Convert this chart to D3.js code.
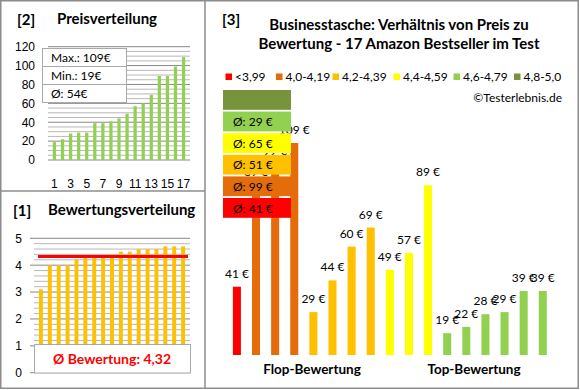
<!DOCTYPE html>
<html>
<head>
<meta charset="utf-8">
<script src="https://cdn.jsdelivr.net/npm/d3@7"></script>
<style>
	body { margin: 0; background: #fff; }
	svg { display: block; font-family: Lato, "Open Sans", sans-serif; }
</style>
</head>
<body>
<div id="chart"></div>
<script>
// data
const productNr = d3.range(1, 18);
const prices = [19, 22, 28, 29, 29, 39, 39, 41, 44, 49, 57, 60, 69, 89, 89, 99, 109];
const ratings = [3.1, 4.0, 4.0, 4.0, 4.2, 4.3, 4.3, 4.3, 4.4, 4.5, 4.5, 4.6, 4.6, 4.6, 4.7, 4.7, 4.7];

// panel 3: products sorted by rating group
const groupPrices = [41, 89, 99, 109, 29, 44, 60, 69, 49, 57, 89, 19, 22, 28, 29, 39, 39];
const groupOf = [0, 1, 1, 1, 2, 2, 2, 2, 3, 3, 3, 4, 4, 4, 4, 4, 4];
const groupLabels = ["<3,99", "4,0-4,19", "4,2-4,39", "4,4-4,59", "4,6-4,79", "4,8-5,0"];
const groupColors = ["#ff0000", "#e46c0a", "#ffc000", "#ffff00", "#92d050", "#77933c"];

const priceTicks = [0, 20, 40, 60, 80, 100, 120];
const ratingTicks = [0, 1, 2, 3, 4, 5];

let svg = d3.select("#chart")
	.append("svg")
	.attr("width", 580)
	.attr("height", 390);

let borderCol = "#8c8c8c";

// ---------- [2] Preisverteilung ----------
let x2 = d3.scaleBand().domain(productNr).range([48, 190]).padding(0.6);
let y2 = d3.scaleLinear().domain([0, 120]).range([160, 46.7]);

let g2 = svg.append("g");
g2.selectAll(".grid2")
	.data(d3.range(0, 121, 5))
	.enter().append("line")
	.attr("x1", 48).attr("x2", 190)
	.attr("y1", d => y2(d)).attr("y2", d => y2(d))
	.attr("stroke", d => d % 20 == 0 ? "#888" : "#b8b8b8")
	.attr("stroke-width", 1);

g2.selectAll(".bar2")
	.data(prices)
	.enter().append("rect")
	.attr("x", (d, i) => x2(productNr[i]))
	.attr("y", d => y2(d))
	.attr("width", x2.bandwidth())
	.attr("height", d => y2(0) - y2(d))
	.attr("fill", "#92d050");

g2.append("g")
	.attr("transform", "translate(44,0)")
	.call(d3.axisLeft(y2).tickValues(priceTicks).tickSize(0).tickPadding(9).tickFormat(d3.format("d")))
	.call(a => a.select(".domain").remove())
	.selectAll("text").style("font-size", "12px").attr("fill", "#000");

g2.append("g")
	.attr("transform", "translate(0,176)")
	.call(d3.axisBottom(x2).tickValues(productNr.filter(d => d % 2 == 1)).tickSize(0))
	.call(a => a.select(".domain").remove())
	.selectAll("text").style("font-size", "12px").attr("fill", "#000");

// stats box
let stats = ["Max.: " + d3.max(prices) + "€", "Min.: " + d3.min(prices) + "€", "Ø: " + Math.round(d3.mean(prices)) + "€"];
g2.selectAll(".stat")
	.data(stats)
	.enter().append("rect")
	.attr("x", 42.5).attr("y", (d, i) => 48.5 + i * 18)
	.attr("width", 84).attr("height", 18)
	.attr("fill", "#fff").attr("stroke", "#aaa");
g2.selectAll(".statt")
	.data(stats)
	.enter().append("text")
	.attr("x", 51).attr("y", (d, i) => 62 + i * 18)
	.style("font-size", "12px")
	.text(d => d);

g2.append("text").attr("x", 17).attr("y", 25).style("font-size", "15px").style("font-weight", "bold").text("[2]");
g2.append("text").attr("x", 57).attr("y", 24).style("font-size", "15px").style("font-weight", "bold").text("Preisverteilung");

// ---------- [1] Bewertungsverteilung ----------
let x1 = d3.scaleBand().domain(productNr).range([34, 190]).padding(0.56);
let y1 = d3.scaleLinear().domain([0, 5]).range([372.7, 238.3]);

let g1 = svg.append("g");
g1.selectAll(".grid1")
	.data(d3.range(0, 26).map(d => d / 5))
	.enter().append("line")
	.attr("x1", (d, i) => i % 5 == 0 ? 30 : 34).attr("x2", 190)
	.attr("y1", d => y1(d)).attr("y2", d => y1(d))
	.attr("stroke", (d, i) => i % 5 == 0 ? "#888" : "#b8b8b8");

g1.selectAll(".bar1")
	.data(ratings)
	.enter().append("rect")
	.attr("x", (d, i) => x1(productNr[i]))
	.attr("y", d => y1(d))
	.attr("width", x1.bandwidth())
	.attr("height", d => y1(0) - y1(d))
	.attr("fill", "#ffc000");

let meanRating = d3.mean(ratings);
g1.append("line")
	.attr("x1", 38).attr("x2", 188)
	.attr("y1", y1(meanRating)).attr("y2", y1(meanRating))
	.attr("stroke", "#ff0000").attr("stroke-width", 3);

g1.append("g")
	.attr("transform", "translate(30,0)")
	.call(d3.axisLeft(y1).tickValues(ratingTicks).tickSize(0).tickPadding(8).tickFormat(d3.format("d")))
	.call(a => a.select(".domain").remove())
	.selectAll("text").style("font-size", "12px").attr("fill", "#000");

g1.append("rect")
	.attr("x", 34.5).attr("y", 344.5).attr("width", 156).attr("height", 28.5)
	.attr("fill", "#fff").attr("stroke", "#aaa");
g1.append("text")
	.attr("x", 112).attr("y", 364)
	.attr("text-anchor", "middle")
	.style("font-size", "14px").style("font-weight", "bold").attr("fill", "#ff0000")
	.text("Ø Bewertung: " + meanRating.toFixed(2).replace(".", ","));

g1.append("text").attr("x", 13).attr("y", 216).style("font-size", "15px").style("font-weight", "bold").text("[1]");
g1.append("text").attr("x", 48).attr("y", 215).style("font-size", "15px").style("font-weight", "bold").text("Bewertungsverteilung");

// ---------- [3] Preis zu Bewertung ----------
let x3 = d3.scaleBand().domain(d3.range(groupPrices.length)).range([221.8, 557.9]).padding(0.58);
let y3 = d3.scaleLinear().domain([8.7, 109]).range([355, 143]);

let g3 = svg.append("g");
g3.selectAll(".bar3")
	.data(groupPrices)
	.enter().append("rect")
	.attr("x", (d, i) => x3(i))
	.attr("y", d => y3(d))
	.attr("width", x3.bandwidth())
	.attr("height", d => y3(8.7) - y3(d))
	.attr("fill", (d, i) => groupColors[groupOf[i]]);

g3.selectAll(".lab3")
	.data(groupPrices)
	.enter().append("text")
	.attr("x", (d, i) => x3(i) + x3.bandwidth() / 2)
	.attr("y", d => y3(d) - 9)
	.attr("text-anchor", "middle")
	.style("font-size", "12px")
	.text(d => d + " €");

// average boxes per group
let groupAvg = groupLabels.map((l, k) => {
	let v = groupPrices.filter((p, i) => groupOf[i] == k);
	return v.length ? Math.round(d3.mean(v)) : null;
});
let box = g3.selectAll(".avg")
	.data(groupAvg)
	.enter().append("g")
	.attr("transform", (d, k) => "translate(223," + (90 + (5 - k) * 21.6) + ")");
box.append("rect")
	.attr("width", 68).attr("height", 19.8)
	.attr("fill", (d, k) => groupColors[k]);
box.append("text")
	.attr("x", 10).attr("y", 14.5)
	.style("font-size", "12px")
	.text(d => d == null ? "" : "Ø: " + d + " €");

// legend
let legX = [225.5, 276, 332.5, 393.5, 453.5, 514];
let leg = g3.selectAll(".leg")
	.data(groupLabels)
	.enter().append("g")
	.attr("transform", (d, k) => "translate(" + legX[k] + ",73.5)");
leg.append("rect").attr("width", 6.5).attr("height", 6.5).attr("fill", (d, k) => groupColors[k]);
leg.append("text").attr("x", 9.5).attr("y", 7.5).style("font-size", "12px").text(d => d);

g3.append("text").attr("x", 562).attr("y", 101.5).attr("text-anchor", "end").style("font-size", "12px").text("©Testerlebnis.de");

g3.append("text").attr("x", 222).attr("y", 25).style("font-size", "15px").style("font-weight", "bold").text("[3]");
g3.append("text").attr("x", 399).attr("y", 29.5).attr("text-anchor", "middle")
	.style("font-size", "15px").style("font-weight", "bold").text("Businesstasche: Verhältnis von Preis zu");
g3.append("text").attr("x", 399).attr("y", 49).attr("text-anchor", "middle")
	.style("font-size", "15px").style("font-weight", "bold").text("Bewertung - 17 Amazon Bestseller im Test");

g3.append("text").attr("x", 312).attr("y", 374).attr("text-anchor", "middle")
	.style("font-size", "13.5px").style("font-weight", "bold").text("Flop-Bewertung");
g3.append("text").attr("x", 474).attr("y", 374).attr("text-anchor", "middle")
	.style("font-size", "13.5px").style("font-weight", "bold").text("Top-Bewertung");

// panel borders
svg.append("rect")
	.attr("x", 0.75).attr("y", 0.75).attr("width", 577.5).attr("height", 387.5)
	.attr("fill", "none").attr("stroke", borderCol).attr("stroke-width", 1.5);
svg.append("line").attr("x1", 205).attr("x2", 205).attr("y1", 0).attr("y2", 389)
	.attr("stroke", borderCol).attr("stroke-width", 1.5);
svg.append("line").attr("x1", 0).attr("x2", 205).attr("y1", 191).attr("y2", 191)
	.attr("stroke", borderCol).attr("stroke-width", 1.5);
</script>
</body>
</html>
